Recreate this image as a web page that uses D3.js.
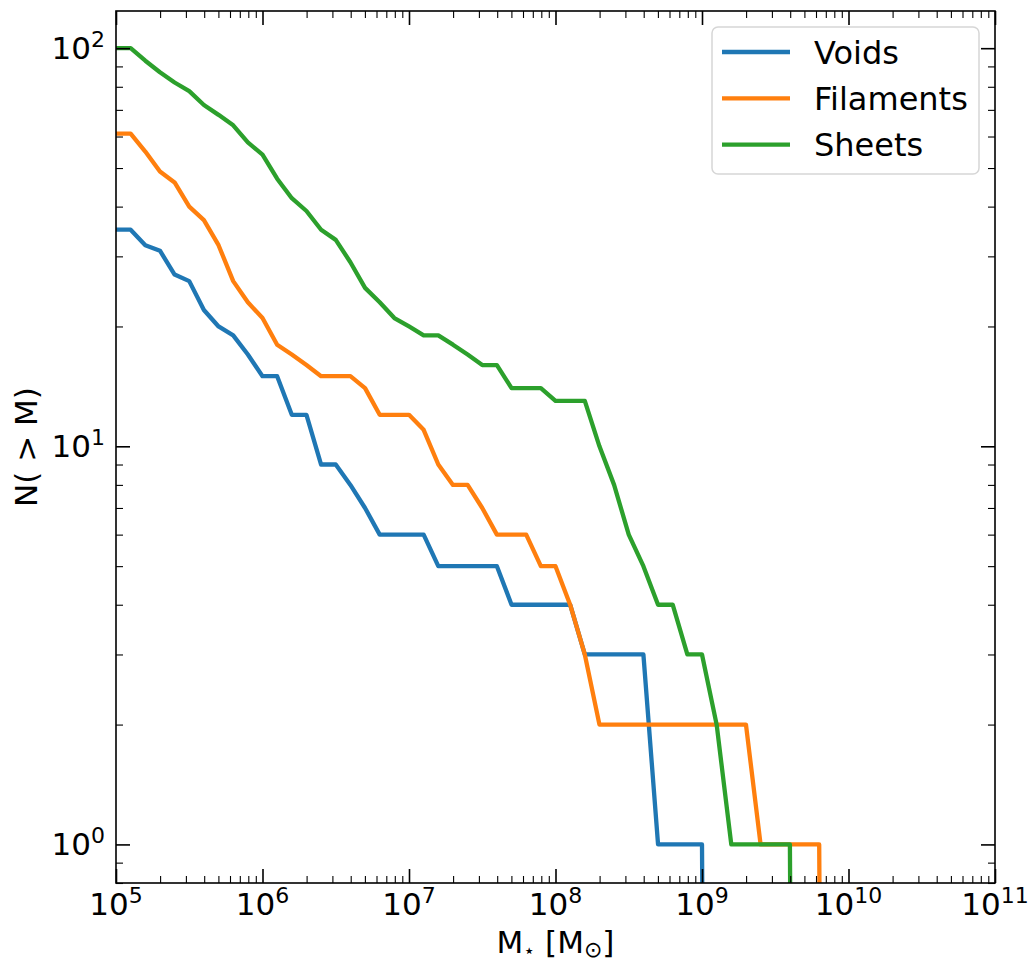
<!DOCTYPE html>
<html>
<head>
<meta charset="utf-8">
<script src="https://cdn.jsdelivr.net/npm/d3@7"></script>
<style>
  body { margin: 0; background: #fff; }
  svg { display: block; font-family: "DejaVu Sans", sans-serif; }
</style>
</head>
<body>
<script>
// log10 of stellar mass at each bin edge
const logMass = [5.0, 5.1, 5.2, 5.3, 5.4, 5.5, 5.6, 5.7, 5.8, 5.9,
  6.0, 6.1, 6.2, 6.3, 6.4, 6.5, 6.6, 6.7, 6.8, 6.9,
  7.0, 7.1, 7.2, 7.3, 7.4, 7.5, 7.6, 7.7, 7.8, 7.9,
  8.0, 8.1, 8.2, 8.3, 8.4, 8.5, 8.6, 8.7, 8.8, 8.9,
  9.0, 9.1, 9.2, 9.3, 9.4, 9.5, 9.6, 9.7, 9.8, 9.9];

// cumulative counts N(>M), read per bin
const voids = [35, 35, 32, 31, 27, 26, 22, 20, 19, 17,
  15, 15, 12, 12, 9, 9, 8, 7, 6, 6,
  6, 6, 5, 5, 5, 5, 5, 4, 4, 4,
  4, 4, 3, 3, 3, 3, 3, 1, 1, 1,
  1, 0];
const filaments = [61, 61, 55, 49, 46, 40, 37, 32, 26, 23,
  21, 18, 17, 16, 15, 15, 15, 14, 12, 12,
  12, 11, 9, 8, 8, 7, 6, 6, 6, 5,
  5, 4, 3, 2, 2, 2, 2, 2, 2, 2,
  2, 2, 2, 2, 1, 1, 1, 1, 1, 0];
const sheets = [100, 100, 93, 87, 82, 78, 72, 68, 64, 58,
  54, 47, 42, 39, 35, 33, 29, 25, 23, 21,
  20, 19, 19, 18, 17, 16, 16, 14, 14, 14,
  13, 13, 13, 10, 8, 6, 5, 4, 4, 3,
  3, 2, 1, 1, 1, 1, 1, 0];

const seriesNames = ["Voids", "Filaments", "Sheets"];
const seriesColors = ["#1f77b4", "#ff7f0e", "#2ca02c"];

const xTickExponents = [5, 6, 7, 8, 9, 10, 11];
const yTickExponents = [0, 1, 2];

// Chart dimensions
const width = 1036;
const height = 965;
const margin = { top: 11, right: 41, bottom: 82, left: 116 };
const fontSize = 31;

const x = d3.scaleLog()
  .domain([1e5, 1e11])
  .range([margin.left, width - margin.right]);

const y = d3.scaleLog()
  .domain([0.8, 124])
  .range([height - margin.bottom, margin.top]);

const svg = d3.select("body")
  .append("svg")
  .attr("width", width)
  .attr("height", height)
  .attr("viewBox", [0, 0, width, height]);

svg.append("clipPath")
  .attr("id", "plot-area")
  .append("rect")
  .attr("x", margin.left)
  .attr("y", margin.top)
  .attr("width", width - margin.left - margin.right)
  .attr("height", height - margin.top - margin.bottom);

// Lines
const series = [voids, filaments, sheets].map((values, i) => ({
  name: seriesNames[i],
  color: seriesColors[i],
  points: values.map((n, j) => ({ m: Math.pow(10, logMass[j]), n }))
}));

// zero counts are pushed far below the axis, like a clipped log plot
const line = d3.line()
  .x(d => x(d.m))
  .y(d => y(Math.max(d.n, 1e-6)));

svg.append("g")
  .attr("clip-path", "url(#plot-area)")
  .selectAll("path")
  .data(series)
  .join("path")
  .attr("fill", "none")
  .attr("stroke", d => d.color)
  .attr("stroke-width", 4.3)
  .attr("stroke-linejoin", "round")
  .attr("stroke-linecap", "butt")
  .attr("d", d => line(d.points));

// Ticks (pointing inwards, on all four sides)
const xMajor = xTickExponents.map(e => Math.pow(10, e));
const xMinor = x.ticks().filter(v => !xMajor.some(m => Math.abs(v / m - 1) < 1e-9));
const yMajor = yTickExponents.map(e => Math.pow(10, e));
const yMinor = y.ticks().filter(v => !yMajor.some(m => Math.abs(v / m - 1) < 1e-9));

function drawTicks(axis, values, size, strokeWidth, transform) {
  const g = svg.append("g")
    .attr("transform", transform)
    .call(axis.tickValues(values).tickSize(size).tickSizeOuter(0).tickFormat(""));
  g.select(".domain").remove();
  g.selectAll("line").attr("stroke", "#000").attr("stroke-width", strokeWidth);
}

const bottomY = height - margin.bottom;
const rightX = width - margin.right;

drawTicks(d3.axisBottom(x), xMajor, -14, 1.6, `translate(0,${bottomY})`);
drawTicks(d3.axisBottom(x), xMinor, -7, 1.1, `translate(0,${bottomY})`);
drawTicks(d3.axisTop(x), xMajor, -14, 1.6, `translate(0,${margin.top})`);
drawTicks(d3.axisTop(x), xMinor, -7, 1.1, `translate(0,${margin.top})`);
drawTicks(d3.axisLeft(y), yMajor, -14, 1.6, `translate(${margin.left},0)`);
drawTicks(d3.axisLeft(y), yMinor, -7, 1.1, `translate(${margin.left},0)`);
drawTicks(d3.axisRight(y), yMajor, -14, 1.6, `translate(${rightX},0)`);
drawTicks(d3.axisRight(y), yMinor, -7, 1.1, `translate(${rightX},0)`);

// Frame
svg.append("rect")
  .attr("x", margin.left)
  .attr("y", margin.top)
  .attr("width", width - margin.left - margin.right)
  .attr("height", height - margin.top - margin.bottom)
  .attr("fill", "none")
  .attr("stroke", "#000")
  .attr("stroke-width", 1.6);

// Tick labels as 10^n
function powerLabel(sel, exponent) {
  sel.append("tspan").text("10");
  sel.append("tspan")
    .attr("dy", -12)
    .attr("font-size", 22)
    .text(exponent);
}

svg.append("g")
  .selectAll("text")
  .data(xTickExponents)
  .join("text")
  .attr("x", e => x(Math.pow(10, e)))
  .attr("y", 915)
  .attr("text-anchor", "middle")
  .attr("font-size", fontSize)
  .attr("fill", "#000")
  .each(function (e) { powerLabel(d3.select(this), e); });

svg.append("g")
  .selectAll("text")
  .data(yTickExponents)
  .join("text")
  .attr("x", 105)
  .attr("y", e => y(Math.pow(10, e)) + 11)
  .attr("text-anchor", "end")
  .attr("font-size", fontSize)
  .attr("fill", "#000")
  .each(function (e) { powerLabel(d3.select(this), e); });

// Axis labels
const xLabel = svg.append("text")
  .attr("x", (margin.left + rightX) / 2)
  .attr("y", 953)
  .attr("text-anchor", "middle")
  .attr("font-size", fontSize)
  .attr("fill", "#000");
xLabel.append("tspan").text("M");
xLabel.append("tspan").attr("dy", 4).attr("font-size", 19).text("\u22C6");
xLabel.append("tspan").attr("dy", -4).text(" [M");
xLabel.append("tspan").attr("dy", 4).attr("font-size", 22).text("\u2299");
xLabel.append("tspan").attr("dy", -4).text("]");

svg.append("text")
  .attr("transform", `translate(37,${(margin.top + bottomY) / 2}) rotate(-90)`)
  .attr("text-anchor", "middle")
  .attr("font-size", fontSize)
  .attr("fill", "#000")
  .text("N( > M)");

// Legend
const legend = svg.append("g")
  .attr("transform", "translate(712,27)");

legend.append("rect")
  .attr("width", 267)
  .attr("height", 147)
  .attr("rx", 6)
  .attr("fill", "#fff")
  .attr("fill-opacity", 0.8)
  .attr("stroke", "#d6d6d6")
  .attr("stroke-width", 1.5);

const legendItem = legend.selectAll(".item")
  .data(series)
  .join("g")
  .attr("class", "item")
  .attr("transform", (d, i) => `translate(0,${25 + i * 46.3})`);

legendItem.append("line")
  .attr("x1", 10)
  .attr("x2", 78)
  .attr("stroke", d => d.color)
  .attr("stroke-width", 4.3);

legendItem.append("text")
  .attr("x", 102)
  .attr("y", 11.5)
  .attr("font-size", 32)
  .attr("fill", "#000")
  .text(d => d.name);
</script>
</body>
</html>
